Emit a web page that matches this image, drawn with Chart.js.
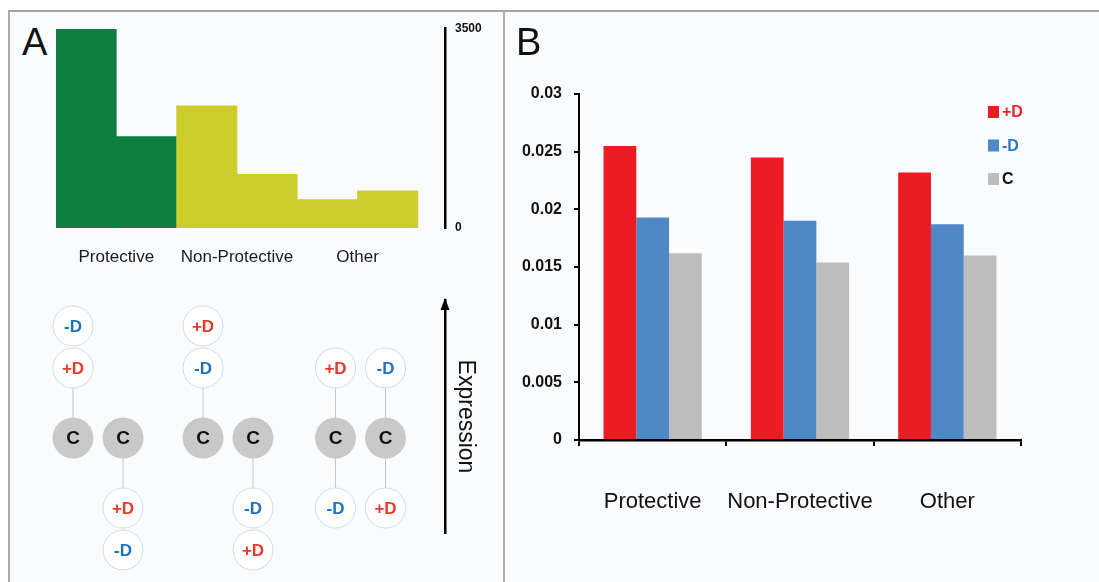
<!DOCTYPE html>
<html>
<head>
<meta charset="utf-8">
<script src="https://cdn.jsdelivr.net/npm/chart.js@4.4.1/dist/chart.umd.min.js"></script>
<style>
  body { margin: 0; width: 1099px; height: 582px; background: #fff; position: relative; overflow: hidden;
         font-family: "Liberation Sans", Arial, sans-serif; }
  #frame { position: absolute; left: 8px; top: 10px; width: 1091px; height: 572px; background: #fafbfd;
           border-top: 2px solid #a4a4a4; border-left: 2px solid #ababab; box-sizing: border-box; }
  #divider { position: absolute; left: 503px; top: 10px; width: 2px; height: 572px; background: #ababab; }
  .panel { position: absolute; font-size: 38px; line-height: 38px; color: #111; }
  canvas { position: absolute; }
</style>
</head>
<body>
<div id="frame"></div>
<div id="divider"></div>
<canvas id="histA" width="440" height="255" style="left:56px;top:11px"></canvas>
<canvas id="nodesA" width="473" height="297" style="left:10px;top:285px"></canvas>
<canvas id="barsB" width="593" height="569" style="left:506px;top:13px"></canvas>
<div class="panel" style="left:22px;top:23px">A</div>
<div class="panel" style="left:516px;top:23px">B</div>
<script>
// panel A, top: counts, two bins per category
var histCategories = ['Protective', 'Non-Protective', 'Other'];
var histCounts = [3480, 1600, 2140, 940, 500, 650];
var histTicks = [0, 3500];

// panel A, bottom: schematic expression levels per column
var nodeColumns = [0, 1, 2.6, 3.6, 5.25, 6.25];
var levelC = [0, 0, 0, 0, 0, 0];
var levelPlusD = [1, -1, 1.6, -1.6, 1, -1];
var levelMinusD = [1.6, -1.6, 1, -1, -1, 1];

// panel B
var categories = ['Protective', 'Non-Protective', 'Other'];
var plusD = [0.0255, 0.0245, 0.0232];
var minusD = [0.0193, 0.0190, 0.0187];
var control = [0.0162, 0.0154, 0.0160];
var yTicksB = [0, 0.005, 0.01, 0.015, 0.02, 0.025, 0.03];

Chart.defaults.font.family = '"Liberation Sans", Arial, sans-serif';
Chart.defaults.color = '#111';

new Chart(document.getElementById('histA'), {
  type: 'bar',
  data: {
    datasets: [{
      data: histCounts.map(function (v, i) { return { x: i + 0.5, y: v }; }),
      backgroundColor: histCounts.map(function (v, i) { return i < 2 ? '#0e7f3f' : '#cccc2b'; }),
      borderWidth: 0,
      barPercentage: 1,
      categoryPercentage: 1
    }]
  },
  options: {
    responsive: false,
    animation: false,
    events: [],
    layout: { padding: { top: 10 } },
    plugins: { legend: { display: false }, tooltip: { enabled: false } },
    scales: {
      x: {
        type: 'linear', min: 0, max: 6.45, offset: false,
        grid: { display: false, drawTicks: false, offset: false },
        border: { display: false },
        afterBuildTicks: function (s) { s.ticks = histCategories.map(function (c, i) { return { value: i * 2 + 1 }; }); },
        ticks: {
          callback: function (v) { return histCategories[(v - 1) / 2]; },
          padding: 19, font: { size: 17 }, color: '#1a1a1a', maxRotation: 0, autoSkip: false
        },
        afterFit: function (s) { s.height = 38; }
      },
      y: {
        position: 'right', min: 0, max: 3500,
        grid: { display: false, drawTicks: false },
        border: { color: '#000', width: 2.5 },
        afterBuildTicks: function (s) { s.ticks = histTicks.map(function (v) { return { value: v }; }); },
        ticks: {
          callback: function (v) { return String(v); },
          padding: 10, font: { size: 12, weight: 'bold' }, color: '#111'
        },
        afterFit: function (s) { s.width = 51; }
      }
    }
  }
});

// lines from C to the nearest D above/below, labels inside circles, arrow head
var nodeLinks = {
  id: 'nodeLinks',
  beforeDatasetsDraw: function (chart) {
    var ctx = chart.ctx;
    var cMeta = chart.getDatasetMeta(0);
    ctx.save();
    ctx.strokeStyle = '#c6c6c6';
    ctx.lineWidth = 1;
    [1, 2].forEach(function (d) {
      var meta = chart.getDatasetMeta(d);
      chart.data.datasets[d].data.forEach(function (p, i) {
        if (Math.abs(p.y) !== 1) return;
        ctx.beginPath();
        ctx.moveTo(cMeta.data[i].x, cMeta.data[i].y);
        ctx.lineTo(meta.data[i].x, meta.data[i].y);
        ctx.stroke();
      });
    });
    ctx.restore();
  },
  afterDatasetsDraw: function (chart) {
    var ctx = chart.ctx;
    ctx.save();
    ctx.textAlign = 'center';
    ctx.textBaseline = 'middle';
    chart.data.datasets.forEach(function (ds, d) {
      var meta = chart.getDatasetMeta(d);
      ctx.fillStyle = ds.textColor;
      ctx.font = ds.textFont;
      meta.data.forEach(function (pt) { ctx.fillText(ds.label, pt.x, pt.y + 1); });
    });
    ctx.restore();
  },
  afterDraw: function (chart) {
    var ctx = chart.ctx, a = chart.chartArea;
    ctx.save();
    ctx.fillStyle = '#000';
    ctx.beginPath();
    ctx.moveTo(a.right, a.top - 2);
    ctx.lineTo(a.right - 4.5, a.top + 10);
    ctx.lineTo(a.right + 4.5, a.top + 10);
    ctx.closePath();
    ctx.fill();
    ctx.restore();
  }
};

function nodePoints(levels) {
  return nodeColumns.map(function (x, i) { return { x: x, y: levels[i] }; });
}

new Chart(document.getElementById('nodesA'), {
  type: 'scatter',
  data: {
    datasets: [
      { label: 'C', data: nodePoints(levelC), backgroundColor: '#c9c9c9', borderWidth: 0,
        pointRadius: 20.5, clip: false, textColor: '#111', textFont: 'bold 19px "Liberation Sans", Arial' },
      { label: '+D', data: nodePoints(levelPlusD), backgroundColor: '#fff', borderColor: '#cfdce4', borderWidth: 1,
        pointRadius: 20, clip: false, textColor: '#e8392b', textFont: 'bold 17px "Liberation Sans", Arial' },
      { label: '-D', data: nodePoints(levelMinusD), backgroundColor: '#fff', borderColor: '#cfdce4', borderWidth: 1,
        pointRadius: 20, clip: false, textColor: '#1f72bd', textFont: 'bold 17px "Liberation Sans", Arial' }
    ]
  },
  plugins: [nodeLinks],
  options: {
    responsive: false,
    animation: false,
    events: [],
    layout: { autoPadding: false, padding: { top: 15, bottom: 49 } },
    plugins: { legend: { display: false }, tooltip: { enabled: false } },
    scales: {
      x: { type: 'linear', min: -1.26, max: 7.44, display: false },
      y: {
        position: 'right', min: -1.357, max: 1.971,
        grid: { display: false, drawTicks: false },
        border: { color: '#000', width: 2.5 },
        ticks: { display: false },
        title: { display: true, text: 'Expression', font: { size: 23 }, color: '#111', padding: { top: 4, bottom: 4 } },
        afterFit: function (s) { s.width = 38; }
      }
    }
  }
});

// legend drawn inside the plot, coloured text per series
var legendB = {
  id: 'legendB',
  afterDraw: function (chart) {
    var ctx = chart.ctx, a = chart.chartArea;
    ctx.save();
    ctx.font = 'bold 16px "Liberation Sans", Arial';
    ctx.textBaseline = 'middle';
    chart.data.datasets.forEach(function (ds, i) {
      var y = a.top + 18 + i * 33.5;
      ctx.fillStyle = ds.backgroundColor;
      ctx.fillRect(a.right - 33, y - 6, 11, 12);
      ctx.fillStyle = ds.textColor;
      ctx.fillText(ds.label, a.right - 19, y + 1);
    });
    ctx.restore();
  }
};

new Chart(document.getElementById('barsB'), {
  type: 'bar',
  data: {
    labels: categories,
    datasets: [
      { label: '+D', data: plusD, backgroundColor: '#ec1c24', textColor: '#e8262c' },
      { label: '-D', data: minusD, backgroundColor: '#5088c7', textColor: '#2b7bc4' },
      { label: 'C', data: control, backgroundColor: '#bdbdbd', textColor: '#111' }
    ]
  },
  plugins: [legendB],
  options: {
    responsive: false,
    animation: false,
    events: [],
    categoryPercentage: 0.667,
    barPercentage: 1,
    layout: { padding: { top: 81, right: 78 } },
    plugins: { legend: { display: false }, tooltip: { enabled: false } },
    scales: {
      x: {
        grid: { display: true, drawOnChartArea: false, tickLength: 6, color: '#000', lineWidth: 2, offset: true },
        border: { color: '#000', width: 2.5 },
        ticks: { font: { size: 22 }, color: '#111', padding: 43, maxRotation: 0, autoSkip: false },
        afterFit: function (s) { s.height = 142; }
      },
      y: {
        min: 0, max: 0.03,
        afterBuildTicks: function (s) { s.ticks = yTicksB.map(function (v) { return { value: v }; }); },
        grid: { display: true, drawOnChartArea: false, tickLength: 5, color: '#000', lineWidth: 2 },
        border: { color: '#000', width: 2 },
        ticks: {
          callback: function (v) { return String(+v.toFixed(3)); },
          font: { size: 16, weight: 'bold' }, color: '#111', padding: 12
        },
        afterFit: function (s) { s.width = 73; }
      }
    }
  }
});
</script>
</body>
</html>
